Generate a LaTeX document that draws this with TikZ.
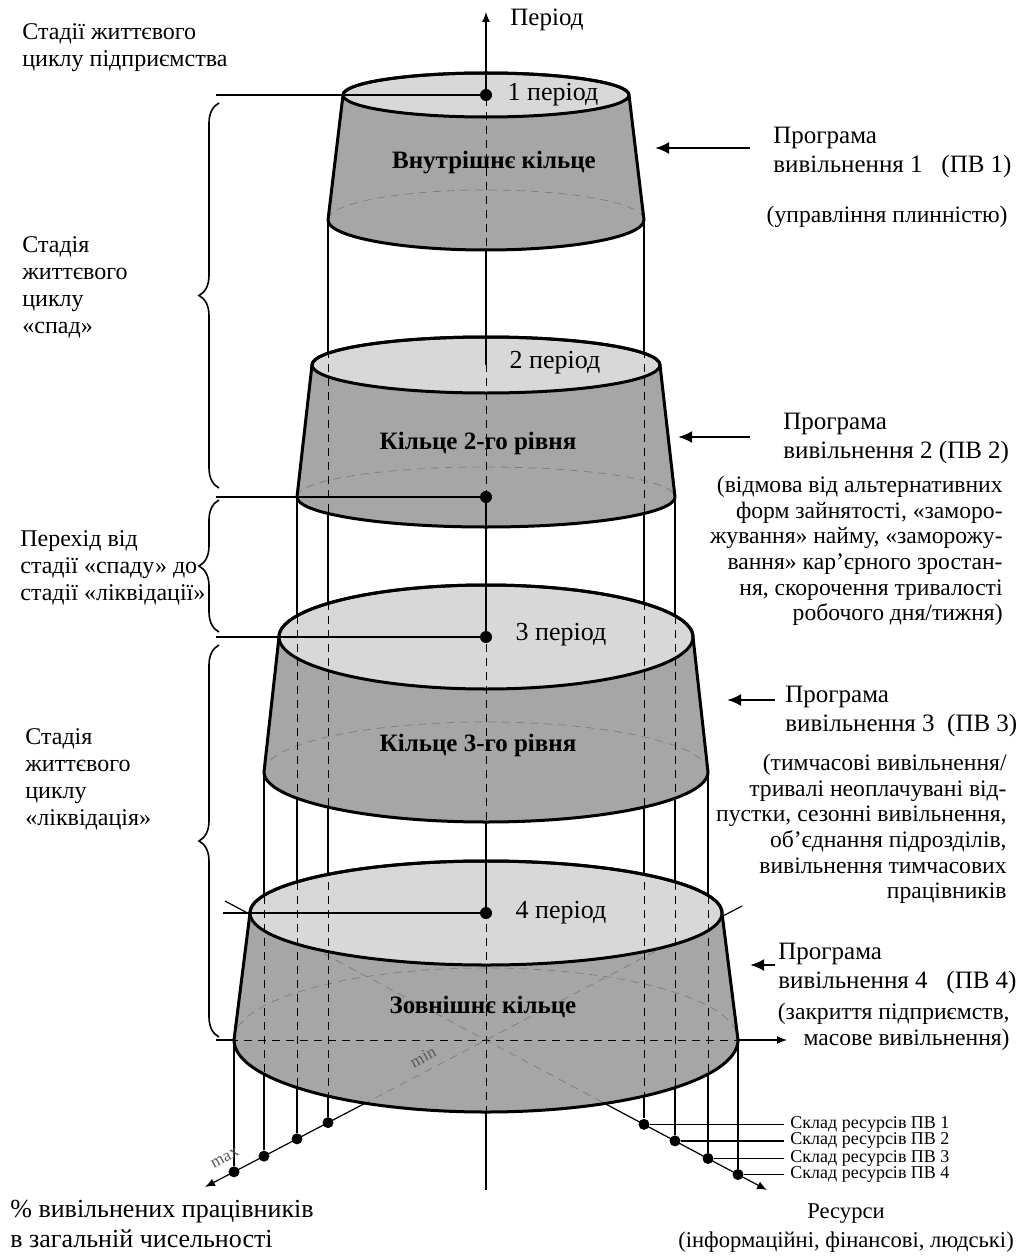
\documentclass[tikz,border=0pt]{standalone}
\usepackage{fontspec}
\setmainfont{Liberation Serif}
\usetikzlibrary{arrows.meta,decorations.pathreplacing,positioning}
\definecolor{sidegray}{RGB}{166,166,166}
\definecolor{topgray}{RGB}{216,216,216}
\newcommand{\ringpath}[7]{(#1-#3,#2) arc[start angle=180,end angle=360,x radius=#3,y radius=#4] -- (#1+#6,#5) arc[start angle=0,end angle=180,x radius=#6,y radius=#7] -- cycle}
\newcommand{\fs}[2]{\fontsize{#1}{#2}\selectfont}

\begin{document}
\begin{tikzpicture}[x=0.5pt,y=-0.5pt,
    rim/.style={line width=1.5pt,line join=round},
    hidden/.style={line width=0.5pt,dash pattern=on 4pt off 3pt},
    faint/.style={line width=0.4pt,gray,dash pattern=on 4pt off 3pt},
    guide/.style={line width=0.6pt},
    dot/.style={circle,fill=black,inner sep=0pt,minimum size=6pt},
    axdot/.style={circle,fill=black,inner sep=0pt,minimum size=5.5pt},
    axarrow/.style={guide,-{Latex[length=5pt,width=4pt]}},
    progarrow/.style={line width=1.3pt,-{Latex[length=7pt,width=6pt]}},
    stage/.style={anchor=west,align=left,inner sep=0pt,font=\fs{12}{13.5}},
    prog/.style={anchor=west,align=left,inner sep=0pt,font=\fs{12.5}{14.5}},
    note/.style={anchor=east,align=right,inner sep=0pt,font=\fs{11.8}{12.8}},
    period/.style={inner sep=0pt,font=\fs{13}{15}},
    ringlbl/.style={inner sep=0pt,font=\fs{12.5}{15}\bfseries},
    reslbl/.style={anchor=west,inner ysep=0pt,inner xsep=3pt,font=\fs{9}{10}},
    minmax/.style={inner sep=0pt,font=\fs{8.5}{9},gray!70!black,rotate=28},
    stagebrace/.style={decorate,decoration={brace,amplitude=10pt},line width=0.8pt}]

\useasboundingbox (0,0) rectangle (1020,1257);

% axes at the base
\coordinate (base) at (486,1040);
\coordinate (hleft) at (216,1040);
\coordinate (hright) at (787,1040);
\coordinate (maxback) at (742,906);
\coordinate (maxend) at (205,1187);
\coordinate (resback) at (225,901);
\coordinate (resend) at (767,1190);
\draw[axarrow] (hleft) -- (hright);
\draw[axarrow] (maxback) -- (maxend);
\draw[axarrow] (resback) -- (resend);

% projections of the ring edges
\foreach \n/\vx/\vy in {1/328/220,2/297/497,3/264/772,4/234/1040}{
  \coordinate (lc\n) at (\vx,\vy);
  \node[axdot] (m\n) at (\vx,{1040+(486-\vx)*0.5231}) {};
  \draw[guide] (lc\n) -- (m\n);
}
\foreach \n/\vx/\vy in {1/644/220,2/675/497,3/708/772,4/738/1040}{
  \coordinate (rc\n) at (\vx,\vy);
  \node[axdot] (r\n) at (\vx,{1040+(\vx-486)*0.5338}) {};
  \node[reslbl] (s\n) at (784,{1040+(\vx-486)*0.5338}) {Склад ресурсів ПВ \n};
  \draw[guide] (rc\n) -- (r\n);
  \draw[guide] (r\n) -- (s\n.west);
}

% rings
\foreach \ty/\trx/\try/\by/\brx/\bry in {95/143/22/220/158/30,365/174/28/497/189/30,637/207/52/772/222/50,913/236/52/1040/252/72}{
  \fill[sidegray] \ringpath{486}{\ty}{\trx}{\try}{\by}{\brx}{\bry};
  \begin{scope}
    \clip \ringpath{486}{\ty}{\trx}{\try}{\by}{\brx}{\bry};
    \draw[faint] (486-\brx,\by) arc[start angle=180,end angle=360,x radius=\brx,y radius=\bry];
    \draw[hidden] (hleft) -- (hright);
    \draw[faint] (maxback) -- (maxend);
    \draw[faint] (resback) -- (resend);
  \end{scope}
  \fill[topgray] (486,\ty) ellipse[x radius=\trx,y radius=\try];
  \begin{scope}
    \clip \ringpath{486}{\ty}{\trx}{\try}{\by}{\brx}{\bry};
    \foreach \vx in {234,264,297,328,486,644,675,708,738}
      \draw[hidden] (\vx,0) -- (\vx,1200);
  \end{scope}
  \draw[rim] \ringpath{486}{\ty}{\trx}{\try}{\by}{\brx}{\bry};
  \draw[rim] (486,\ty) ellipse[x radius=\trx,y radius=\try];
}

% period axis
\node[dot] (d1) at (486,95) {};
\node[dot] (d2) at (486,497) {};
\node[dot] (d3) at (486,637) {};
\node[dot] (d4) at (486,913) {};
\coordinate (ptop) at (486,12);
\coordinate (c1b) at (486,250);
\coordinate (c2t) at (486,365);
\coordinate (c3b) at (486,822);
\coordinate (c4b) at (486,1112);
\coordinate (cend) at (486,1190);
\draw[axarrow] (d1) -- (ptop);
\draw[guide] (c1b) -- (c2t);
\draw[guide] (d2) -- (d3);
\draw[guide] (c3b) -- (d4);
\draw[guide] (c4b) -- (cend);
\node[prog] (per) at (510,20) {Період};

\foreach \n/\hy in {1/95,2/497,3/637}{
  \coordinate (hl\n) at (216,\hy);
  \draw[guide] (hl\n) -- (d\n);
}
\coordinate (hl4) at (223,913);
\draw[guide] (hl4) -- (d4);

\node[period] (p1) at (553,95) {1 період};
\node[period] (p2) at (555,363) {2 період};
\node[period] (p3) at (561,635) {3 період};
\node[period] (p4) at (561,913) {4 період};

\node[ringlbl] (ring1) at (494,163) {Внутрішнє кільце};
\node[ringlbl] (ring2) at (478,443) {Кільце 2-го рівня};
\node[ringlbl] (ring3) at (478,745) {Кільце 3-го рівня};
\node[ringlbl] (ring4) at (483,1007) {Зовнішнє кільце};

\node[minmax] (minl) at (423,1057) {min};
\node[minmax] (maxl) at (225,1158) {max};

% stages
\draw[stagebrace] (219,488) -- (219,103);
\draw[stagebrace] (219,632) -- (219,500);
\draw[stagebrace] (219,1037) -- (219,645);
\node[stage] (stg0) at (22,48) {Стадії життєвого\\циклу підприємства};
\node[stage] (stg1) at (22,287) {Стадія\\життєвого\\циклу\\«спад»};
\node[stage] (stg2) at (20,568) {Перехід від\\стадії «спаду» до\\стадії «ліквідації»};
\node[stage] (stg3) at (25,779) {Стадія\\життєвого\\циклу\\«ліквідація»};

% programmes
\node[prog] (pv1) at (773,152) {Програма\\вивільнення 1\ \ \ (ПВ 1)};
\node[note] (n1) at (1008,217) {(управління плинністю)};
\coordinate (a1) at (750,148);
\coordinate (a1e) at (655,148);
\draw[progarrow] (a1) -- (a1e);

\node[prog] (pv2) at (783,438) {Програма\\вивільнення 2 (ПВ 2)};
\node[note] (n2) at (1003,551) {(відмова від альтернативних\\форм зайнятості, «заморо-\\жування» найму, «заморожу-\\вання» кар’єрного зростан-\\ня, скорочення тривалості\\робочого дня/тижня)};
\coordinate (a2) at (750,437);
\coordinate (a2e) at (678,437);
\draw[progarrow] (a2) -- (a2e);

\node[prog] (pv3) at (785,711) {Програма\\вивільнення 3\ \ (ПВ 3)};
\node[note] (n3) at (1007,829) {(тимчасові вивільнення/\\тривалі неоплачувані від-\\пустки, сезонні вивільнення,\\об’єднання підрозділів,\\вивільнення тимчасових\\працівників};
\coordinate (a3) at (775,700);
\coordinate (a3e) at (727,700);
\draw[progarrow] (a3) -- (a3e);

\node[prog] (pv4) at (778,968) {Програма\\вивільнення 4\ \ \ (ПВ 4)};
\node[note] (n4) at (1010,1027) {(закриття підприємств,\\масове вивільнення)};
\coordinate (a4) at (775,965);
\coordinate (a4e) at (750,965);
\draw[progarrow] (a4) -- (a4e);

% axis titles
\node[prog,font=\fs{13}{15}] (pct) at (10,1224) {\% вивільнених працівників\\в загальній чисельності};
\node[align=center,inner sep=0pt,font=\fs{11.3}{14.5}] (res) at (846,1228) {Ресурси\\(інформаційні, фінансові, людські)};
\end{tikzpicture}
\end{document}
